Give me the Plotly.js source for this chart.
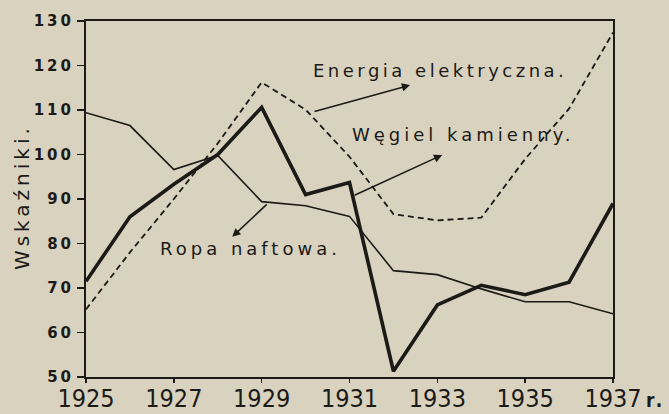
<!DOCTYPE html>
<html>
<head>
<meta charset="utf-8">
<script src="https://cdn.plot.ly/plotly-3.0.1.min.js"></script>
<style>
  html, body { margin: 0; padding: 0; background: #d9d2bf; }
  #chart { width: 669px; height: 414px; }
  .annotation-text { letter-spacing: 4px; }
  g.annotation[data-index="0"] .annotation-text { letter-spacing: 3.5px; }
  .ytick text { letter-spacing: 3px; }
</style>
</head>
<body>
<div id="chart"></div>
<script>
// Years (x axis)
const years = [1925, 1926, 1927, 1928, 1929, 1930, 1931, 1932, 1933, 1934, 1935, 1936, 1937];
// Węgiel kamienny (thick solid)
const coal = [71.5, 86, 93.3, 100, 110.6, 91, 93.7, 51.3, 66.2, 70.6, 68.5, 71.3, 89];
// Ropa naftowa (thin solid)
const oil = [109.4, 106.5, 96.6, 99.8, 89.4, 88.5, 86.1, 73.9, 73.0, 69.8, 66.9, 66.9, 64.2];
// Energia elektryczna (dashed)
const electric = [65.2, 78, 90, 102.5, 116.2, 110.1, 99.5, 86.6, 85.2, 85.8, 99, 110.3, 127.4];

// Tick labels
const xTickVals = [1925, 1927, 1929, 1931, 1933, 1935, 1937];
const xTickText = ['1925', '1927', '1929', '1931', '1933', '1935', '1937'];
const yTickVals = [50, 60, 70, 80, 90, 100, 110, 120, 130];
const yTickText = ['50', '60', '70', '80', '90', '100', '110', '120', '130'];

const seriesNames = ['Energia elektryczna.', 'Węgiel kamienny.', 'Ropa naftowa.'];
const axisTitle = 'Wskaźniki.';
const yearSuffix = 'r.';

const ink = '#1b1a17';
const paper = '#d9d2bf';
const letterFont = { family: 'DejaVu Sans, sans-serif', size: 18, color: ink };

const traces = [
  { x: years, y: electric, mode: 'lines', name: seriesNames[0],
    line: { color: ink, width: 1.8, dash: '6px,4px' } },
  { x: years, y: coal, mode: 'lines', name: seriesNames[1],
    line: { color: ink, width: 3.6 } },
  { x: years, y: oil, mode: 'lines', name: seriesNames[2],
    line: { color: ink, width: 1.6 } }
];

function arrow(hx, hy, tx, ty) {
  return { x: hx, y: hy, ax: tx, ay: ty, xref: 'x', yref: 'y', axref: 'x', ayref: 'y',
    text: '', showarrow: true, arrowhead: 2, arrowsize: 1.1, arrowwidth: 1.5, arrowcolor: ink,
    standoff: 0, startstandoff: 0 };
}

const layout = {
  width: 669, height: 414,
  margin: { l: 86, r: 56, t: 21, b: 37 },
  paper_bgcolor: paper, plot_bgcolor: paper,
  showlegend: false,
  xaxis: {
    range: [1925, 1937], tickvals: xTickVals, ticktext: xTickText,
    showgrid: false, zeroline: false, showline: true, mirror: true,
    linecolor: ink, linewidth: 2, ticks: 'outside', ticklen: 4, tickwidth: 1.5, tickcolor: ink,
    ticklabelstandoff: -6,
    tickfont: { family: 'DejaVu Sans Condensed, Liberation Sans Narrow, DejaVu Sans, sans-serif', size: 25, color: ink }
  },
  yaxis: {
    range: [50, 130], tickvals: yTickVals, ticktext: yTickText,
    showgrid: false, zeroline: false, showline: true, mirror: true,
    linecolor: ink, linewidth: 2, ticks: 'outside', ticklen: 7, tickwidth: 1.5, tickcolor: ink,
    tickfont: { family: 'DejaVu Sans, sans-serif', size: 15, color: ink, weight: 'bold' }
  },
  annotations: [
    { x: 1930.01, y: 118.8, xref: 'x', yref: 'y', text: seriesNames[0], showarrow: false,
      xanchor: 'left', yanchor: 'middle', font: letterFont },
    arrow(1932.38, 115.6, 1930.17, 109.55),
    { x: 1931.0, y: 104.4, xref: 'x', yref: 'y', text: seriesNames[1], showarrow: false,
      xanchor: 'left', yanchor: 'middle', font: letterFont },
    arrow(1933.11, 99.9, 1931.08, 90.7),
    { x: 1926.64, y: 78.8, xref: 'x', yref: 'y', text: seriesNames[2], showarrow: false,
      xanchor: 'left', yanchor: 'middle', font: letterFont },
    arrow(1928.33, 81.5, 1929.15, 89.1),
    { x: -0.121, y: 0.506, xref: 'paper', yref: 'paper', text: axisTitle, showarrow: false,
      textangle: -90, xanchor: 'center', yanchor: 'middle',
      font: { family: 'DejaVu Sans, sans-serif', size: 20, color: ink } },
    { x: 1.058, y: -0.065, xref: 'paper', yref: 'paper', text: yearSuffix, showarrow: false,
      xanchor: 'left', yanchor: 'middle',
      font: { family: 'DejaVu Sans Condensed, DejaVu Sans, sans-serif', size: 19, color: ink, weight: 'bold' } }
  ]
};

Plotly.newPlot('chart', traces, layout, { displayModeBar: false, staticPlot: true });
</script>
</body>
</html>
